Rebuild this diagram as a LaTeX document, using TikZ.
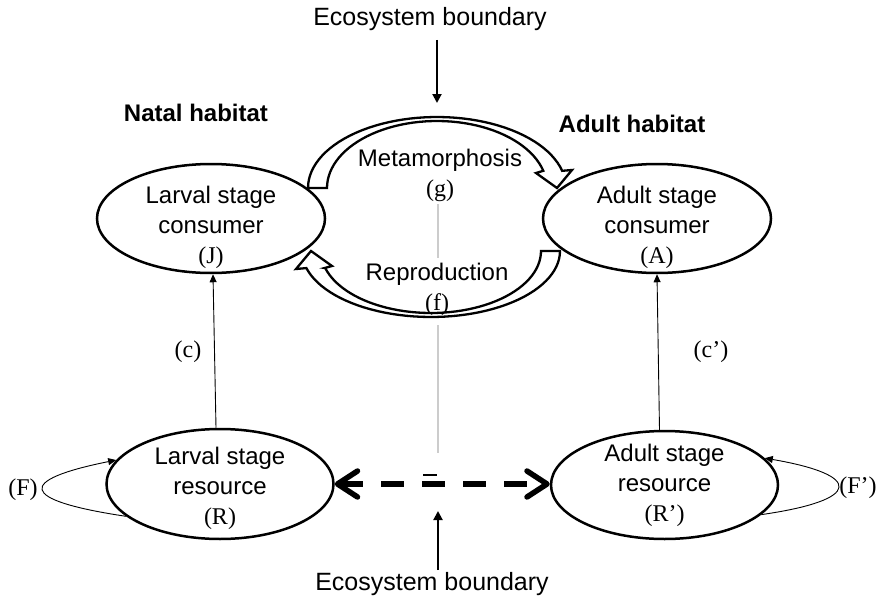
\documentclass[tikz,border=0pt]{standalone}
\usepackage{fontspec}
\setmainfont{Liberation Serif}
\newfontfamily\arialf{Liberation Sans}
\usetikzlibrary{arrows.meta,shapes.geometric}
\newcommand{\serf}{\rmfamily\fontsize{24pt}{30pt}\selectfont}
\begin{document}
\begin{tikzpicture}[x=1pt,y=-1pt,
  ell/.style={draw, ellipse, line width=2.5pt, minimum width=228pt, minimum height=109pt, inner sep=0pt},
  lab/.style={font=\arialf\fontsize{24pt}{30pt}\selectfont, align=center, inner sep=0pt},
  eblab/.style={font=\arialf\fontsize{25pt}{30pt}\selectfont, inner sep=0pt},
  boldlab/.style={font=\arialf\bfseries\fontsize{24pt}{30pt}\selectfont, inner sep=0pt},
  ser/.style={font=\serf, inner sep=0pt},
  thinarrow/.style={line width=0.9pt, -{Triangle[length=8pt,width=7pt]}},
  bdarrow/.style={line width=2pt, -{Triangle[length=9pt,width=9pt]}},
  blockarrow/.style={draw, fill=white, line width=2.3pt, line join=miter},
  greyline/.style={draw=black!20, line width=2pt},
  dashline/.style={line width=5.5pt, dash pattern=on 22.5pt off 18.5pt,
    {Straight Barb[length=20pt,width=26pt,round]}-{Straight Barb[length=20pt,width=26pt,round]}}
]
\useasboundingbox (0,0) rectangle (878,602);

% grey dividing line
\coordinate (g1) at (438,204);
\coordinate (g2) at (438,258);
\coordinate (g3) at (438,325);
\coordinate (g4) at (438,453);
\draw[greyline] (g1) -- (g2);
\draw[greyline] (g3) -- (g4);

% ellipses
\node[ell] (J) at (211,218.5) {};
\node[ell] (A) at (657,218.5) {};
\node[ell, minimum width=227pt, minimum height=110pt] (R) at (220,484) {};
\node[ell, minimum width=227pt, minimum height=108pt] (Rp) at (664.5,485) {};

% block arrow: metamorphosis
\begin{scope}[shift={(434,219.5)}]
\draw[blockarrow] plot[domain=180:14, samples=50] ({3+129*cos(\x)},{-31.5-71*sin(\x)})
  -- (138,-49.5) -- (123,-31.5) -- (102,-46.5) -- (109.3,-48.7)
  -- plot[domain=15:180, samples=50] ({3+110*cos(\x)},{-31.5-67*sin(\x)}) -- cycle;
\end{scope}
% block arrow: reproduction
\begin{scope}[shift={(434,219.5)}, rotate=180]
\draw[blockarrow] plot[domain=180:15, samples=50] ({3+129*cos(\x)},{-31.5-66*sin(\x)})
  -- (138,-49.5) -- (123,-31.5) -- (102,-46.5) -- (109.3,-48.5)
  -- plot[domain=16:180, samples=50] ({3+110*cos(\x)},{-31.5-62*sin(\x)}) -- cycle;
\end{scope}

% texts in ellipses
\node[lab] (Jt) at (211,227) {Larval stage\\consumer\\{\serf (J)}};
\node[lab] (At) at (657,227) {Adult stage\\consumer\\{\serf (A)}};
\node[lab] (Rt) at (220,488) {Larval stage\\resource\\{\serf (R)}};
\node[lab] (Rpt) at (664.5,485) {Adult stage\\resource\\{\serf (R’)}};

% process labels
\node[lab] (meta) at (440,175) {Metamorphosis\\{\serf (g)}};
\node[lab] (repro) at (437,289) {Reproduction\\{\serf (f)}};

% habitat labels
\node[boldlab] (natal) at (196,113) {Natal habitat};
\node[boldlab] (adulth) at (632,124) {Adult habitat};

% ecosystem boundary
\node[eblab] (EBt) at (430,19) {Ecosystem boundary};
\node[eblab] (EBb) at (432,584) {Ecosystem boundary};
\coordinate (EBt1) at (437,40);
\coordinate (EBt2) at (437,103);
\coordinate (EBb1) at (438,570);
\coordinate (EBb2) at (438,511);
\draw[bdarrow] (EBt1) -- (EBt2);
\draw[bdarrow] (EBb1) -- (EBb2);

% consumption arrows
\draw[thinarrow] ([xshift=-4pt]R.north) -- ([xshift=2pt]J.south);
\draw[thinarrow] ([xshift=-5pt]Rp.north) -- (A.south);
\node[ser] (c) at (188,352) {(c)};
\node[ser] (cp) at (711,352) {(c’)};

% self loops
\draw[thinarrow] (R.199) .. controls (17,500) and (17,480) .. (R.167);
\node[ser] (F) at (23,490) {(F)};
\draw[thinarrow] (Rp.343) .. controls (863,500) and (863,475) .. (Rp.15);
\node[ser] (Fp) at (858,488) {(F’)};

% exchange between resources
\draw[dashline] (R.east) -- (R.east -| Rp.west);
\coordinate (eq1) at (423,475);
\coordinate (eq2) at (437,475);
\draw[line width=2.5pt] (eq1) -- (eq2);
\end{tikzpicture}
\end{document}
